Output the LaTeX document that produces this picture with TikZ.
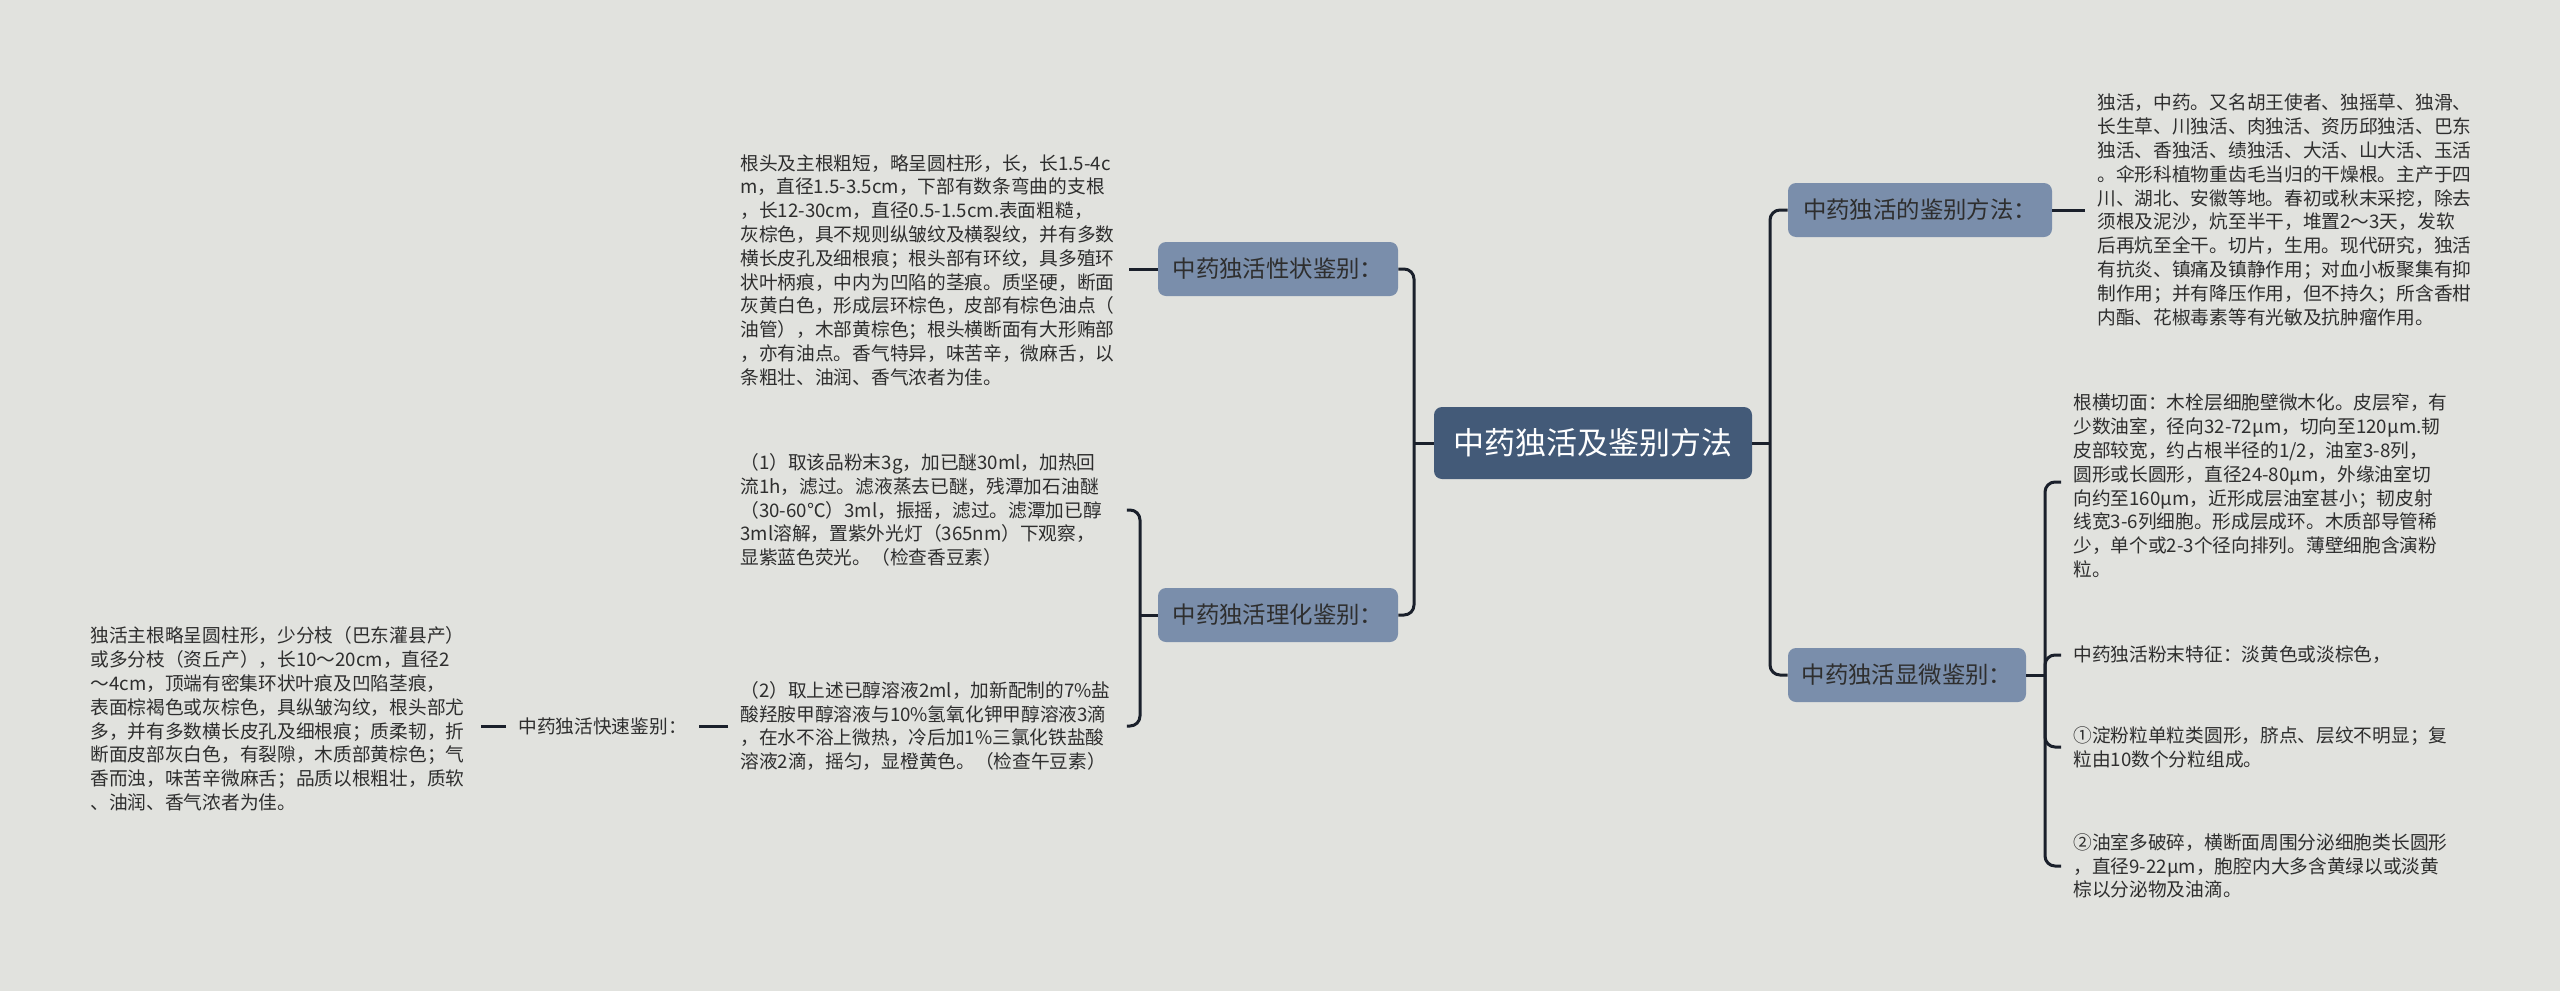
\documentclass[tikz,border=0pt]{standalone}
\usepackage{fontspec}
\setmainfont{Noto Sans CJK SC}
\definecolor{bgc}{HTML}{E1E2DE}
\definecolor{rootc}{HTML}{435A78}
\definecolor{subc}{HTML}{7A8EAB}
\definecolor{linec}{HTML}{1A202B}
\definecolor{textc}{HTML}{2E2E2E}
\tikzset{
  conn/.style={draw=linec, line width=1.5pt, rounded corners=5pt},
  rootbox/.style={fill=rootc, text=white, rounded corners=4pt, minimum width=159pt, minimum height=36pt, inner sep=0pt, font=\fontsize{15.5}{18}\selectfont},
  subbox/.style={fill=subc, text=textc, rounded corners=4pt, minimum height=27pt, inner sep=0pt, font=\fontsize{11.7}{14}\selectfont},
  leaf/.style={text=textc, align=left, inner xsep=6pt, inner ysep=0pt, font=\fontsize{9.35}{11.9}\selectfont},
}
\begin{document}
\begin{tikzpicture}[x=0.5pt,y=-0.5pt]
\useasboundingbox (0,0) rectangle (2560,991);
\fill[bgc] (0,0) rectangle (2560,991);

\node[rootbox] (root) at (1593,443) {中药独活及鉴别方法};
\node[subbox, minimum width=120pt] (xz) at (1278,269) {中药独活性状鉴别：};
\node[subbox, minimum width=120pt] (lh) at (1278,615) {中药独活理化鉴别：};
\node[subbox, minimum width=132pt] (jb) at (1920,210) {中药独活的鉴别方法：};
\node[subbox, minimum width=119pt] (xw) at (1907,675) {中药独活显微鉴别：};

\node[leaf, text width=188pt, anchor=west] (L1) at (728,270) {根头及主根粗短，略呈圆柱形，长，长1.5-4c\\m，直径1.5-3.5cm，下部有数条弯曲的支根\\，长12-30cm，直径0.5-1.5cm.表面粗糙，\\灰棕色，具不规则纵皱纹及横裂纹，并有多数\\横长皮孔及细根痕；根头部有环纹，具多殖环\\状叶柄痕，中内为凹陷的茎痕。质坚硬，断面\\灰黄白色，形成层环棕色，皮部有棕色油点（\\油管），木部黄棕色；根头横断面有大形贿部\\，亦有油点。香气特异，味苦辛，微麻舌，以\\条粗壮、油润、香气浓者为佳。};

\node[leaf, text width=187pt, anchor=west] (L2a) at (728,510) {（1）取该品粉末3g，加已醚30ml，加热回\\流1h，滤过。滤液蒸去已醚，残潭加石油醚\\（30-60℃）3ml，振摇，滤过。滤潭加已醇\\3ml溶解，置紫外光灯（365nm）下观察，\\显紫蓝色荧光。（检查香豆素）};

\node[leaf, text width=187pt, anchor=west] (L2b) at (728,726) {（2）取上述已醇溶液2ml，加新配制的7\%盐\\酸羟胺甲醇溶液与10\%氢氧化钾甲醇溶液3滴\\，在水不浴上微热，冷后加1\%三氯化铁盐酸\\溶液2滴，摇匀，显橙黄色。（检查午豆素）};

\node[leaf, anchor=west] (ks) at (506,726) {中药独活快速鉴别：};

\node[leaf, text width=189pt, anchor=west] (L4) at (78,719) {独活主根略呈圆柱形，少分枝（巴东灌县产）\\或多分枝（资丘产），长10～20cm，直径2\\～4cm，顶端有密集环状叶痕及凹陷茎痕，\\表面棕褐色或灰棕色，具纵皱沟纹，根头部尤\\多，并有多数横长皮孔及细根痕；质柔韧，折\\断面皮部灰白色，有裂隙，木质部黄棕色；气\\香而浊，味苦辛微麻舌；品质以根粗壮，质软\\、油润、香气浓者为佳。};

\node[leaf, text width=189pt, anchor=west] (R1) at (2085,210) {独活，中药。又名胡王使者、独摇草、独滑、\\长生草、川独活、肉独活、资历邱独活、巴东\\独活、香独活、绩独活、大活、山大活、玉活\\。伞形科植物重齿毛当归的干燥根。主产于四\\川、湖北、安徽等地。春初或秋末采挖，除去\\须根及泥沙，炕至半干，堆置2～3天，发软\\后再炕至全干。切片，生用。现代研究，独活\\有抗炎、镇痛及镇静作用；对血小板聚集有抑\\制作用；并有降压作用，但不持久；所含香柑\\内酯、花椒毒素等有光敏及抗肿瘤作用。};

\node[leaf, text width=190pt, anchor=west] (R2a) at (2061,486) {根横切面：木栓层细胞壁微木化。皮层窄，有\\少数油室，径向32-72μm，切向至120μm.韧\\皮部较宽，约占根半径的1/2，油室3-8列，\\圆形或长圆形，直径24-80μm，外缘油室切\\向约至160μm，近形成层油室甚小；韧皮射\\线宽3-6列细胞。形成层成环。木质部导管稀\\少，单个或2-3个径向排列。薄壁细胞含演粉\\粒。};
\node[leaf, text width=190pt, anchor=west] (R2b) at (2061,655) {中药独活粉末特征：淡黄色或淡棕色，};
\node[leaf, text width=190pt, anchor=west] (R2c) at (2061,747) {①淀粉粒单粒类圆形，脐点、层纹不明显；复\\粒由10数个分粒组成。};
\node[leaf, text width=190pt, anchor=west] (R2d) at (2061,866) {②油室多破碎，横断面周围分泌细胞类长圆形\\，直径9-22μm，胞腔内大多含黄绿以或淡黄\\棕以分泌物及油滴。};

\coordinate (cL) at (1414,443);
\coordinate (cR) at (1770,443);
\coordinate (lhL) at (1140,615);
\coordinate (xwR) at (2045,675);

\draw[conn] (xz.east) -| (cL) |- (lh.east);
\draw[conn] (root.west) -- (cL);
\draw[conn] (jb.west) -| (cR) |- (xw.west);
\draw[conn] (root.east) -- (cR);
\draw[conn] (xz.west) -- (xz.west -| L1.east);
\draw[conn] (L2a.east) -| (lhL) |- (L2b.east);
\draw[conn] (lh.west) -- (lhL);
\draw[conn] (L2b.west) -- (ks.east);
\draw[conn] (ks.west) -- (ks.west -| L4.east);
\draw[conn] (jb.east) -- (jb.east -| R1.west);
\draw[conn] ([yshift=2pt]R2a.west) -| (xwR) |- (R2d.west);
\draw[conn] (xw.east) -- (xwR);
\draw[conn] (R2b.west) -| (xwR);
\draw[conn] (R2c.west) -| (xwR);
\end{tikzpicture}
\end{document}
